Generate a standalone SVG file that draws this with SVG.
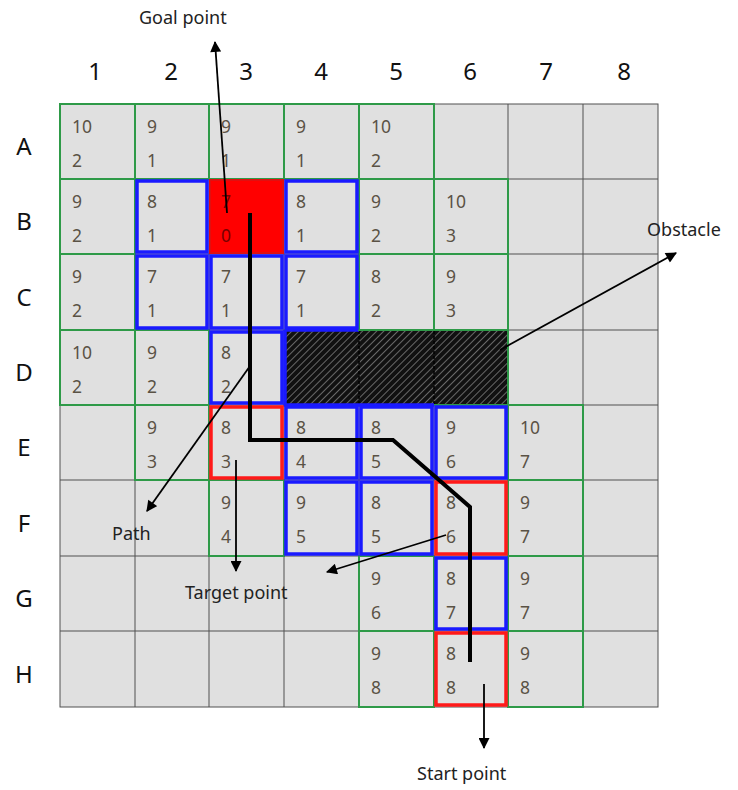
<svg xmlns="http://www.w3.org/2000/svg" width="738" height="790" viewBox="0 0 738 790">
<style>
.cell{fill:#e0e0e0;stroke:#505050;stroke-width:1}
.g{fill:none;stroke:#2e9a48;stroke-width:2}
.b{fill:none;stroke:#1a1aff;stroke-width:3.5}
.r{fill:none;stroke:#ff1a1a;stroke-width:3.5}
.n{font-family:"Noto Sans","DejaVu Sans",sans-serif;font-size:17.5px;fill:#5a5245}
.hd{font-family:"Noto Sans","DejaVu Sans",sans-serif;font-size:24px;fill:#111;text-anchor:middle}
.lb{font-family:"Noto Sans","DejaVu Sans",sans-serif;font-size:18px;fill:#222}
.ar{stroke:#000;stroke-width:1.8;fill:none;marker-end:url(#ah)}
</style>
<defs>
<marker id="ah" viewBox="0 0 10 10" refX="9" refY="5" markerWidth="12" markerHeight="11" markerUnits="userSpaceOnUse" orient="auto"><path d="M0,0 L10,5 L0,10 z" fill="#000"/></marker>
<pattern id="hatch" width="5" height="5" patternUnits="userSpaceOnUse" patternTransform="rotate(45)">
<rect width="5" height="5" fill="#111"/>
<line x1="0" y1="0" x2="0" y2="5" stroke="#b0b0b0" stroke-width="1.1"/>
</pattern>
</defs>
<rect width="738" height="790" fill="#fff"/>
<g id="headers">
<text class="hd" x="95" y="80">1</text><text class="hd" x="171" y="80">2</text><text class="hd" x="246" y="80">3</text><text class="hd" x="321" y="80">4</text><text class="hd" x="396" y="80">5</text><text class="hd" x="470" y="80">6</text><text class="hd" x="546" y="80">7</text><text class="hd" x="624" y="80">8</text>
<text class="hd" x="24" y="155">A</text><text class="hd" x="24" y="230">B</text><text class="hd" x="24" y="306">C</text><text class="hd" x="24" y="381">D</text><text class="hd" x="24" y="456">E</text><text class="hd" x="24" y="532">F</text><text class="hd" x="24" y="607">G</text><text class="hd" x="24" y="683">H</text>
</g>
<g id="grid">
<rect class="cell" x="60" y="104" width="598" height="603"/>
<path d="M135,104V707M209,104V707M284,104V707M359,104V707M434,104V707M508,104V707M583,104V707M60,179H658M60,254H658M60,330H658M60,405H658M60,480H658M60,556H658M60,631H658" stroke="#505050" stroke-width="1" fill="none"/>
</g>
<g id="obstacle">
<rect x="285" y="331" width="223" height="73" fill="url(#hatch)"/>
<path d="M359,331V404M434,331V404" stroke="#000" stroke-width="1.5" stroke-dasharray="3,2"/>
<rect class="g" x="285" y="330" width="223" height="75"/>
<path d="M285,330H359M285,330V405H434" fill="none" stroke="#1a1aff" stroke-width="3.5"/>
</g>
<g id="green-cells">
<rect class="g" x="60" y="104" width="75" height="75"/><rect class="g" x="135" y="104" width="74" height="75"/><rect class="g" x="209" y="104" width="75" height="75"/><rect class="g" x="284" y="104" width="75" height="75"/><rect class="g" x="359" y="104" width="75" height="75"/>
<rect class="g" x="60" y="179" width="75" height="75"/><rect class="g" x="359" y="179" width="75" height="75"/><rect class="g" x="434" y="179" width="74" height="75"/>
<rect class="g" x="60" y="254" width="75" height="76"/><rect class="g" x="359" y="254" width="75" height="76"/><rect class="g" x="434" y="254" width="74" height="76"/>
<rect class="g" x="60" y="330" width="75" height="75"/><rect class="g" x="135" y="330" width="74" height="75"/>
<rect class="g" x="135" y="405" width="74" height="75"/><rect class="g" x="508" y="405" width="75" height="75"/>
<rect class="g" x="209" y="480" width="75" height="76"/><rect class="g" x="508" y="480" width="75" height="76"/>
<rect class="g" x="359" y="556" width="75" height="75"/><rect class="g" x="508" y="556" width="75" height="75"/>
<rect class="g" x="359" y="631" width="75" height="76"/><rect class="g" x="508" y="631" width="75" height="76"/>
</g>
<g id="blue-cells">
<rect class="b" x="137" y="181" width="70" height="71"/><rect class="b" x="286" y="181" width="71" height="71"/>
<rect class="b" x="137" y="256" width="70" height="72"/><rect class="b" x="211" y="256" width="71" height="72"/><rect class="b" x="286" y="256" width="71" height="72"/>
<rect class="b" x="211" y="332" width="71" height="71"/>
<rect class="b" x="286" y="407" width="71" height="71"/><rect class="b" x="361" y="407" width="71" height="71"/><rect class="b" x="436" y="407" width="70" height="71"/>
<rect class="b" x="286" y="482" width="71" height="72"/><rect class="b" x="361" y="482" width="71" height="72"/>
<rect class="b" x="436" y="558" width="70" height="71"/>
</g>
<g id="red-cells">
<rect x="210" y="180" width="73" height="73" fill="#ff0000" stroke="#e01010" stroke-width="2"/>
<rect class="r" x="211" y="407" width="71" height="71"/>
<rect class="r" x="436" y="482" width="70" height="72"/>
<rect class="r" x="436" y="633" width="70" height="72"/>
</g>
<g id="values">
<text class="n" x="72" y="133">10</text><text class="n" x="72" y="167">2</text>
<text class="n" x="147" y="133">9</text><text class="n" x="147" y="167">1</text>
<text class="n" x="221" y="133">9</text><text class="n" x="221" y="167">1</text>
<text class="n" x="296" y="133">9</text><text class="n" x="296" y="167">1</text>
<text class="n" x="371" y="133">10</text><text class="n" x="371" y="167">2</text>
<text class="n" x="72" y="208">9</text><text class="n" x="72" y="242">2</text>
<text class="n" x="147" y="208">8</text><text class="n" x="147" y="242">1</text>
<text class="n" x="221" y="208" style="fill:#700">7</text><text class="n" x="221" y="242" style="fill:#700">0</text>
<text class="n" x="296" y="208">8</text><text class="n" x="296" y="242">1</text>
<text class="n" x="371" y="208">9</text><text class="n" x="371" y="242">2</text>
<text class="n" x="446" y="208">10</text><text class="n" x="446" y="242">3</text>
<text class="n" x="72" y="283">9</text><text class="n" x="72" y="317">2</text>
<text class="n" x="147" y="283">7</text><text class="n" x="147" y="317">1</text>
<text class="n" x="221" y="283">7</text><text class="n" x="221" y="317">1</text>
<text class="n" x="296" y="283">7</text><text class="n" x="296" y="317">1</text>
<text class="n" x="371" y="283">8</text><text class="n" x="371" y="317">2</text>
<text class="n" x="446" y="283">9</text><text class="n" x="446" y="317">3</text>
<text class="n" x="72" y="359">10</text><text class="n" x="72" y="393">2</text>
<text class="n" x="147" y="359">9</text><text class="n" x="147" y="393">2</text>
<text class="n" x="221" y="359">8</text><text class="n" x="221" y="393">2</text>
<text class="n" x="147" y="434">9</text><text class="n" x="147" y="468">3</text>
<text class="n" x="221" y="434">8</text><text class="n" x="221" y="468">3</text>
<text class="n" x="296" y="434">8</text><text class="n" x="296" y="468">4</text>
<text class="n" x="371" y="434">8</text><text class="n" x="371" y="468">5</text>
<text class="n" x="446" y="434">9</text><text class="n" x="446" y="468">6</text>
<text class="n" x="520" y="434">10</text><text class="n" x="520" y="468">7</text>
<text class="n" x="221" y="509">9</text><text class="n" x="221" y="543">4</text>
<text class="n" x="296" y="509">9</text><text class="n" x="296" y="543">5</text>
<text class="n" x="371" y="509">8</text><text class="n" x="371" y="543">5</text>
<text class="n" x="446" y="509">8</text><text class="n" x="446" y="543">6</text>
<text class="n" x="520" y="509">9</text><text class="n" x="520" y="543">7</text>
<text class="n" x="371" y="585">9</text><text class="n" x="371" y="619">6</text>
<text class="n" x="446" y="585">8</text><text class="n" x="446" y="619">7</text>
<text class="n" x="520" y="585">9</text><text class="n" x="520" y="619">7</text>
<text class="n" x="371" y="660">9</text><text class="n" x="371" y="694">8</text>
<text class="n" x="446" y="660">8</text><text class="n" x="446" y="694">8</text>
<text class="n" x="520" y="660">9</text><text class="n" x="520" y="694">8</text>
</g>
<g id="connectors">
<path d="M250,213V440H393L470,507V662" fill="none" stroke="#000" stroke-width="4"/>
<line class="ar" x1="227" y1="213" x2="215" y2="42"/>
<line class="ar" x1="500" y1="350" x2="676" y2="253"/>
<line class="ar" x1="250" y1="366" x2="147" y2="511"/>
<line class="ar" x1="236" y1="460" x2="236" y2="571"/>
<line class="ar" x1="446" y1="535" x2="327" y2="572"/>
<line class="ar" x1="484" y1="684" x2="484" y2="748"/>
</g>
<g id="labels">
<text class="lb" x="139" y="24">Goal point</text>
<text class="lb" x="647" y="236">Obstacle</text>
<text class="lb" x="112" y="540">Path</text>
<text class="lb" x="185" y="599">Target point</text>
<text class="lb" x="417" y="780">Start point</text>
</g>
</svg>
